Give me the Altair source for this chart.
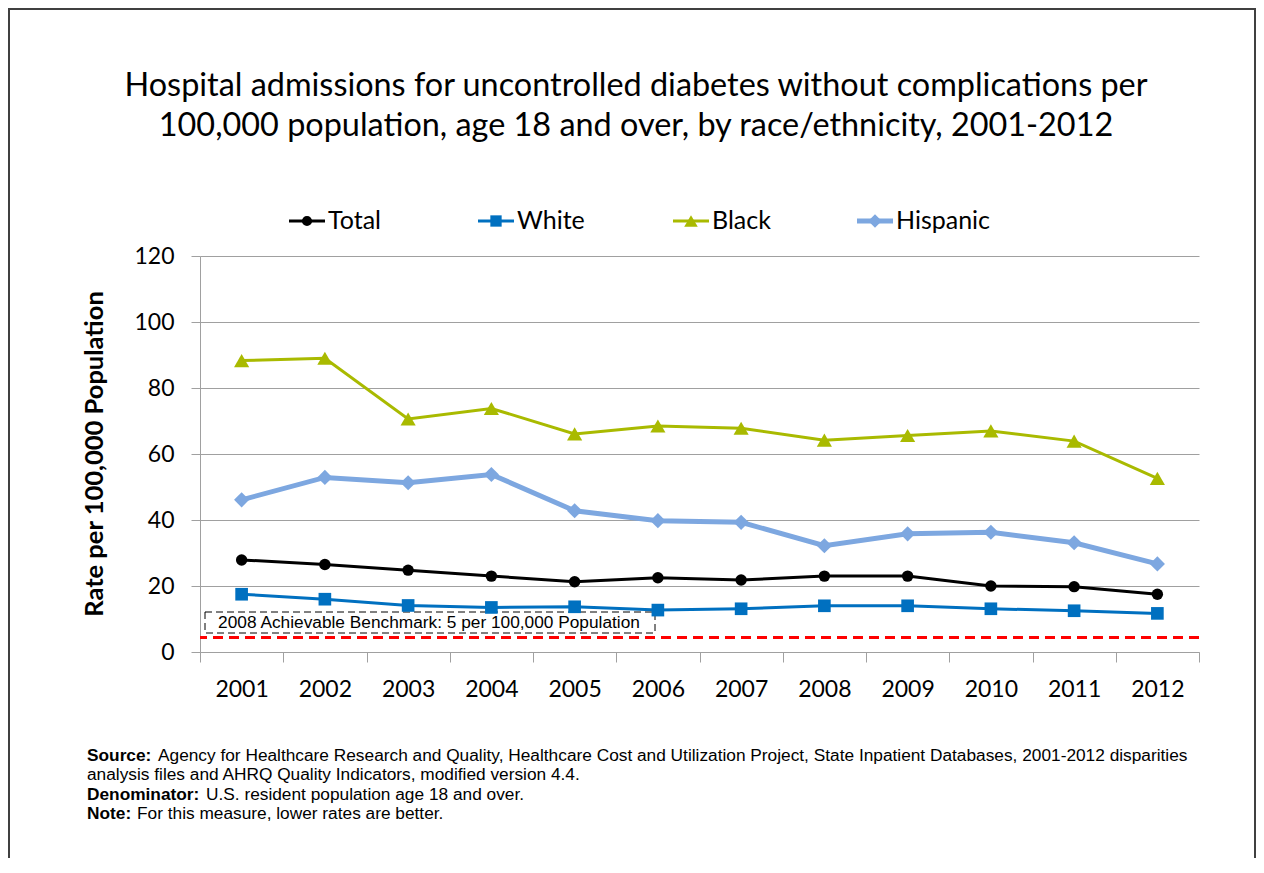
import altair as alt
import pandas as pd

# ---------------- data ----------------
years = ["2001", "2002", "2003", "2004", "2005", "2006",
         "2007", "2008", "2009", "2010", "2011", "2012"]
total = [27.9, 26.5, 24.8, 23.0, 21.3, 22.5, 21.8, 23.0, 23.0, 20.0, 19.8, 17.5]
white = [17.5, 16.0, 14.1, 13.5, 13.7, 12.7, 13.1, 14.0, 14.0, 13.1, 12.5, 11.7]
black = [88.3, 89.0, 70.6, 73.8, 66.1, 68.5, 67.8, 64.2, 65.6, 67.0, 63.9, 52.6]
hispanic = [46.1, 52.9, 51.3, 53.8, 42.8, 39.8, 39.3, 32.2, 35.8, 36.3, 33.1, 26.7]

series_names = ["Total", "White", "Black", "Hispanic"]
series_values = [total, white, black, hispanic]

benchmark_value = 4.4
benchmark_label = "2008 Achievable Benchmark: 5 per 100,000 Population"

y_ticks = [0, 20, 40, 60, 80, 100, 120]

title_lines = [
    "Hospital admissions for uncontrolled diabetes without complications per",
    "100,000 population, age 18 and over, by race/ethnicity, 2001-2012",
]
y_title = "Rate per 100,000 Population"

note_bold = ["Source:", "", "Denominator:", "Note:"]
note_text = [
    "Agency for Healthcare Research and Quality, Healthcare Cost and Utilization Project, State Inpatient Databases, 2001-2012 disparities",
    "analysis files and AHRQ Quality Indicators, modified version 4.4.",
    "U.S. resident population age 18 and over.",
    "For this measure, lower rates are better.",
]

# ---------------- styles ----------------
series_colors = ["#000000", "#0070C0", "#A9BA00", "#7DA7E0"]
series_shapes = ["circle", "square", "triangle-up", "diamond"]
series_widths = [3, 3, 3, 5]
series_sizes = [130, 160, 230, 230]

W, H = 999, 396
FONT = "Lato"
NOTE_FONT = "Liberation Sans"
GRID = "#A0A0A0"

x_scale = alt.Scale(type="band", domain=years, paddingInner=0, paddingOuter=0)
y_scale = alt.Scale(domain=[0, 120], nice=False)

x_axis = alt.Axis(title=None, labelAngle=0, tickBand="extent", grid=False,
                  domainColor=GRID, tickColor=GRID, tickSize=10, labelPadding=16,
                  labelFont=FONT, labelFontSize=23, labelColor="#000000")
y_axis = alt.Axis(title=None, values=y_ticks, grid=True, gridColor=GRID,
                  domainColor=GRID, tickColor=GRID, tickSize=9, labelPadding=17,
                  labelFont=FONT, labelFontSize=23, labelColor="#000000")

one = pd.DataFrame({"k": [0]})
layers = []

# frame
layers.append(alt.Chart(one).mark_rect(fillOpacity=0, stroke="#404040", strokeWidth=2).encode(
    x=alt.value(-191), x2=alt.value(1055), y=alt.value(-247), y2=alt.value(700)))

# benchmark box and label
layers.append(alt.Chart(one).mark_rect(fillOpacity=0, stroke="#000000", strokeWidth=1,
                                       strokeDash=[7, 4]).encode(
    x=alt.value(5), x2=alt.value(455), y=alt.value(356), y2=alt.value(377)))
layers.append(alt.Chart(one).mark_text(font=NOTE_FONT, fontSize=17.3, color="#000000",
                                       align="center", baseline="middle").encode(
    x=alt.value(229), y=alt.value(367), text=alt.value(benchmark_label)))

# benchmark line
layers.append(alt.Chart(pd.DataFrame({"v": [benchmark_value]})).mark_rule(
    color="#FF0000", strokeWidth=3, strokeDash=[10, 6]).encode(
    y=alt.Y("v:Q", scale=y_scale, axis=y_axis)))

# series
for name, vals, col, shp, sw, sz in zip(series_names, series_values, series_colors,
                                        series_shapes, series_widths, series_sizes):
    df = pd.DataFrame({"year": years, "value": vals, "series": name})
    enc = dict(x=alt.X("year:O", scale=x_scale, axis=x_axis, bandPosition=0.5),
               y=alt.Y("value:Q", scale=y_scale, axis=y_axis))
    layers.append(alt.Chart(df).mark_line(color=col, strokeWidth=sw).encode(**enc))
    layers.append(alt.Chart(df).mark_point(shape=shp, filled=True, size=sz, color=col,
                                           opacity=1).encode(**enc))

# legend (manual, Excel style)
leg_line_x = [89, 278, 473, 657]
leg_y = -35
for i, (name, col, shp, sw, sz) in enumerate(zip(series_names, series_colors, series_shapes,
                                                 series_widths, series_sizes)):
    x0 = leg_line_x[i]
    layers.append(alt.Chart(one).mark_rule(color=col, strokeWidth=sw).encode(
        x=alt.value(x0), x2=alt.value(x0 + 36), y=alt.value(leg_y)))
    layers.append(alt.Chart(one).mark_point(shape=shp, filled=True, size=sz * 0.8, color=col,
                                            opacity=1).encode(
        x=alt.value(x0 + 18), y=alt.value(leg_y)))
    layers.append(alt.Chart(one).mark_text(font=FONT, fontSize=25, color="#000000",
                                           align="left", baseline="middle").encode(
        x=alt.value(x0 + 39), y=alt.value(leg_y), text=alt.value(name)))

# title
for j, line in enumerate(title_lines):
    layers.append(alt.Chart(one).mark_text(font=FONT, fontSize=32.4, color="#000000",
                                           align="center", baseline="alphabetic").encode(
        x=alt.value(436), y=alt.value(-160 + 40 * j), text=alt.value(line)))

# y-axis title
layers.append(alt.Chart(one).mark_text(font=FONT, fontSize=25.5, fontWeight="bold",
                                       color="#000000", angle=270, align="center",
                                       baseline="middle").encode(
    x=alt.value(-105), y=alt.value(H / 2), text=alt.value(y_title)))

# notes
note_x_regular = [-42, -113, 6, -63]
for j, (b, t) in enumerate(zip(note_bold, note_text)):
    yb = 505 + 19.3 * j
    if b:
        layers.append(alt.Chart(one).mark_text(font=NOTE_FONT, fontSize=17.3, fontWeight="bold",
                                               color="#000000", align="left",
                                               baseline="alphabetic").encode(
            x=alt.value(-113), y=alt.value(yb), text=alt.value(b)))
    layers.append(alt.Chart(one).mark_text(font=NOTE_FONT, fontSize=17.3, color="#000000",
                                           align="left", baseline="alphabetic").encode(
        x=alt.value(note_x_regular[j]), y=alt.value(yb), text=alt.value(t)))

chart = alt.layer(*layers).properties(
    width=W, height=H,
    autosize=alt.AutoSizeParams(type="none"),
    padding={"left": 192, "top": 248, "right": 57, "bottom": 206},
    background="#FFFFFF",
).configure_view(stroke="transparent")

chart.save("out.html", embed_options={"renderer": "svg", "actions": False})
